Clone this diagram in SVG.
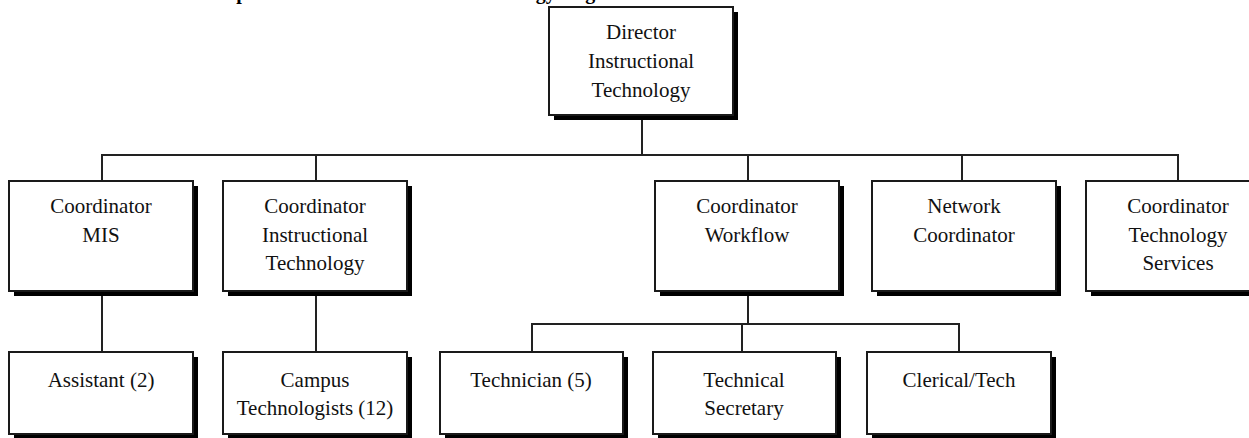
<svg xmlns="http://www.w3.org/2000/svg" width="1249" height="438" viewBox="0 0 1249 438">
  <defs>
    <style>
      .title { font-family: "Liberation Serif", "Times New Roman", serif; font-size: 20px; font-weight: bold; fill: #000; }
      .box { fill: #fff; stroke: #1a1a1a; stroke-width: 2; }
      .shadow { fill: #000; }
      .label { font-family: "Liberation Serif", "Times New Roman", serif; font-size: 21px; fill: #111; text-anchor: middle; }
      .wire { fill: none; stroke: #222; stroke-width: 2; }
    </style>
  </defs>
  <rect width="1249" height="438" fill="#fff"/>

  <!-- page heading, cropped by the top edge -->
  <text class="title" x="213" y="-1">Department of Instructional Technology Organizational Chart</text>

  <!-- connectors -->
  <g id="connectors">
    <path class="wire" d="M642,120 V155"/>
    <path class="wire" d="M102,181 V155 H1178 V181"/>
    <path class="wire" d="M316,155 V181"/>
    <path class="wire" d="M748,155 V181"/>
    <path class="wire" d="M962,155 V181"/>
    <path class="wire" d="M102,296 V352"/>
    <path class="wire" d="M316,296 V352"/>
    <path class="wire" d="M748,296 V324"/>
    <path class="wire" d="M532,352 V324 H959 V352"/>
    <path class="wire" d="M742,324 V352"/>
  </g>

  <g id="director">
    <rect class="shadow" x="554" y="12" width="184" height="108"/>
    <rect class="box" x="549" y="7" width="184" height="108"/>
    <text class="label" x="641" y="39">Director</text>
    <text class="label" x="641" y="68">Instructional</text>
    <text class="label" x="641" y="97">Technology</text>
  </g>

  <g id="coord-mis">
    <rect class="shadow" x="14" y="186" width="184" height="110"/>
    <rect class="box" x="9" y="181" width="184" height="110"/>
    <text class="label" x="101" y="213">Coordinator</text>
    <text class="label" x="101" y="242">MIS</text>
  </g>

  <g id="coord-instructional">
    <rect class="shadow" x="228" y="186" width="184" height="110"/>
    <rect class="box" x="223" y="181" width="184" height="110"/>
    <text class="label" x="315" y="213">Coordinator</text>
    <text class="label" x="315" y="242">Instructional</text>
    <text class="label" x="315" y="270">Technology</text>
  </g>

  <g id="coord-workflow">
    <rect class="shadow" x="660" y="186" width="184" height="110"/>
    <rect class="box" x="655" y="181" width="184" height="110"/>
    <text class="label" x="747" y="213">Coordinator</text>
    <text class="label" x="747" y="242">Workflow</text>
  </g>

  <g id="network-coord">
    <rect class="shadow" x="877" y="186" width="184" height="110"/>
    <rect class="box" x="872" y="181" width="184" height="110"/>
    <text class="label" x="964" y="213">Network</text>
    <text class="label" x="964" y="242">Coordinator</text>
  </g>

  <g id="coord-services">
    <rect class="shadow" x="1091" y="186" width="184" height="110"/>
    <rect class="box" x="1086" y="181" width="184" height="110"/>
    <text class="label" x="1178" y="213">Coordinator</text>
    <text class="label" x="1178" y="242">Technology</text>
    <text class="label" x="1178" y="270">Services</text>
  </g>

  <g id="assistant">
    <rect class="shadow" x="14" y="357" width="184" height="82"/>
    <rect class="box" x="9" y="352" width="184" height="82"/>
    <text class="label" x="101" y="387">Assistant (2)</text>
  </g>

  <g id="campus-technologists">
    <rect class="shadow" x="228" y="357" width="184" height="82"/>
    <rect class="box" x="223" y="352" width="184" height="82"/>
    <text class="label" x="315" y="387">Campus</text>
    <text class="label" x="315" y="415">Technologists (12)</text>
  </g>

  <g id="technician">
    <rect class="shadow" x="445" y="357" width="183" height="82"/>
    <rect class="box" x="440" y="352" width="183" height="82"/>
    <text class="label" x="531" y="387">Technician (5)</text>
  </g>

  <g id="technical-secretary">
    <rect class="shadow" x="658" y="357" width="183" height="82"/>
    <rect class="box" x="653" y="352" width="183" height="82"/>
    <text class="label" x="744" y="387">Technical</text>
    <text class="label" x="744" y="415">Secretary</text>
  </g>

  <g id="clerical-tech">
    <rect class="shadow" x="872" y="357" width="184" height="82"/>
    <rect class="box" x="867" y="352" width="184" height="82"/>
    <text class="label" x="959" y="387">Clerical/Tech</text>
  </g>
</svg>
